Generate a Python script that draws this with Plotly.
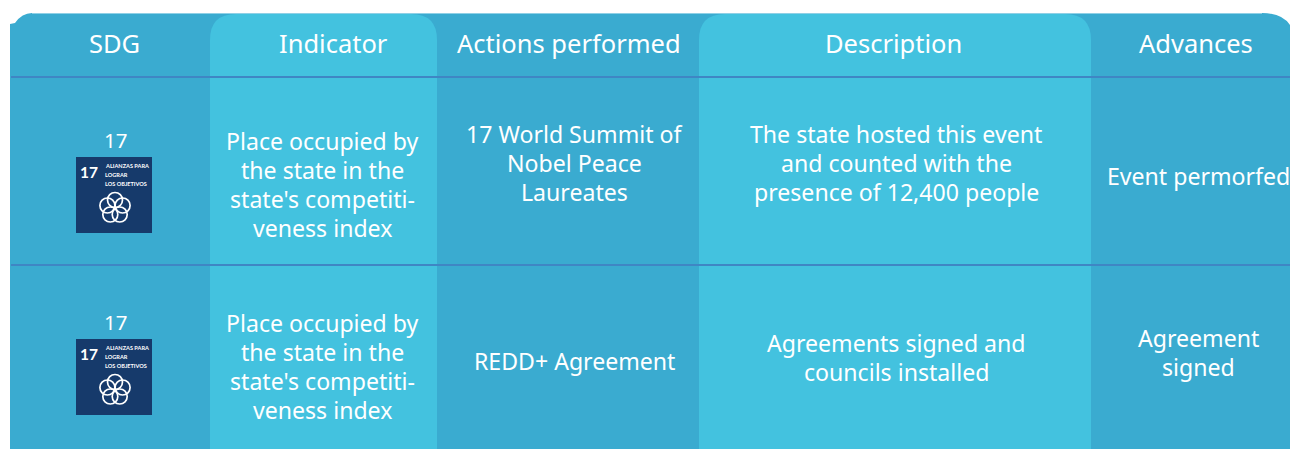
import plotly.graph_objects as go

# ---- content ----
headers = ["SDG", "Indicator", "Actions performed", "Description", "Advances"]
sdg_number = "17"
sdg_badge_lines = ["ALIANZAS PARA", "LOGRAR", "LOS OBJETIVOS"]
indicator_text = ["Place occupied by", "the state in the", "state's competiti-", "veness index"]
actions = [["17 World Summit of", "Nobel Peace", "Laureates"], ["REDD+ Agreement"]]
descriptions = [["The state hosted this event", "and counted with the", "presence of 12,400 people"],
                ["Agreements signed and", "councils installed"]]
advances = [["Event permorfed"], ["Agreement", "signed"]]

# ---- layout (pixels) ----
W, H = 1290, 449
DARK, LIGHT, LINE, NAVY = "#3aabd0", "#43c2df", "#3f86c4", "#163a6b"
FONT = "Noto Sans"
FS = 23.1
LH = 29

shapes, ann = [], []

def text(x, y, s, size=FS, color="white", family=FONT):
    ann.append(dict(x=x, y=y, text=s, showarrow=False, xref="x", yref="y",
                    xanchor="center", yanchor="middle",
                    font=dict(size=size, color=color, family=family)))

def block(x, yc, lines):
    y0 = yc - LH * (len(lines) - 1) / 2
    for i, s in enumerate(lines):
        text(x, y0 + i * LH, s)

# background with rounded top corners
shapes.append(dict(type="path", layer="below", line=dict(width=0), fillcolor=DARK,
    path="M10,449 L10,24 L15,23 Q22,13 32,13 L1262,13 Q1282,13 1290,25 L1290,449 Z"))
shapes.append(dict(type="line", x0=32, x1=1262, y0=13.5, y1=13.5, layer="below",
                   line=dict(color="#8fd0e6", width=1)))
# lighter columns
for x0, x1, r in [(210, 437, 26), (699, 1091, 26)]:
    shapes.append(dict(type="path", layer="below", line=dict(width=0), fillcolor=LIGHT,
        path=f"M{x0},449 L{x0},{14+r} Q{x0},14 {x0+r},14 L{x1-r},14 Q{x1},14 {x1},{14+r} L{x1},449 Z"))
# row rules
for y in (77, 265):
    shapes.append(dict(type="line", x0=11, x1=1290, y0=y, y1=y, line=dict(color=LINE, width=2)))

# headers
for x, h in zip((114, 333, 568.5, 893.5, 1195.5), headers):
    text(x, 43, h, size=25.5)

# rows
row_badge_top = (157, 339)
for i, top in enumerate(row_badge_top):
    text(115, top - 17, sdg_number, size=20.5)
    shapes.append(dict(type="rect", x0=76, x1=152, y0=top, y1=top + 76,
                       fillcolor=NAVY, line=dict(width=0)))
    ann.append(dict(x=89, y=top + 15, text="<b>17</b>", showarrow=False, xanchor="center",
                    yanchor="middle", font=dict(size=15.5, color="white", family="Lato")))
    for j, s in enumerate(sdg_badge_lines):
        ann.append(dict(x=102.5, y=top + 8 + j * 9, text=f"<b>{s}</b>", showarrow=False,
                        xanchor="left", yanchor="middle",
                        font=dict(size=5.6, color="white", family="Lato")))
    # flower emblem
    cx, cy = 115, top + 51
    for dx, dy in [(0, -8), (7.6, -2.5), (4.7, 6.5), (-4.7, 6.5), (-7.6, -2.5)]:
        shapes.append(dict(type="circle", x0=cx + dx - 7.5, x1=cx + dx + 7.5, y0=cy + dy - 7.5, y1=cy + dy + 7.5,
                           line=dict(color="white", width=1.7), fillcolor="rgba(0,0,0,0)"))

    block(322.5, (184, 366.5)[i], indicator_text)
    block(574, (162.5, 360.5)[i], actions[i])
    block(896, (162.5, 357)[i], descriptions[i])
    block(1198, (175.5, 352.5)[i], advances[i])

fig = go.Figure()
fig.update_layout(width=W, height=H, autosize=False, margin=dict(l=0, r=0, t=0, b=0),
                  paper_bgcolor="white", plot_bgcolor="white", showlegend=False,
                  shapes=shapes, annotations=ann,
                  xaxis=dict(range=[0, W], visible=False, fixedrange=True),
                  yaxis=dict(range=[H, 0], visible=False, fixedrange=True))
fig.write_html("out.html", config=dict(displayModeBar=False),
               post_script="document.body.style.margin='0';document.body.style.overflow='hidden';")
